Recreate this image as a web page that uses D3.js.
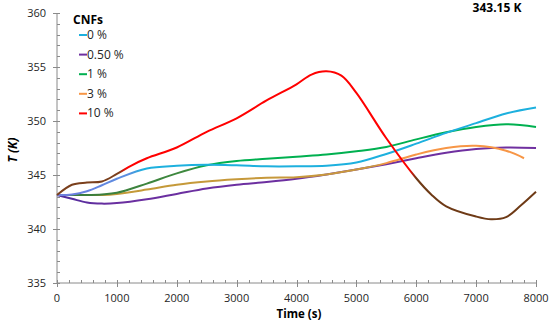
<!DOCTYPE html>
<html>
<head>
<meta charset="utf-8">
<script src="https://cdn.jsdelivr.net/npm/d3@7"></script>
<style>
  body { margin: 0; background: #fff; }
  svg { font-family: "Open Sans", "Noto Sans", sans-serif; }
</style>
</head>
<body>
<svg id="chart" width="550" height="324"></svg>
<script>
// time points (s)
var times = [0, 250, 500, 750, 1000, 1500, 2000, 2500, 3000, 3500, 4000, 4500, 5000, 5500, 6000, 6500, 7000, 7500, 8000];
var times3 = [0, 250, 500, 750, 1000, 1500, 2000, 2500, 3000, 3500, 4000, 4500, 5000, 5500, 6000, 6500, 7000, 7500, 7800];
var times10 = [0, 250, 500, 750, 1000, 1250, 1500, 2000, 2500, 3000, 3500, 4000, 4250, 4500, 4750, 5000, 5500, 6000, 6250, 6500, 7000, 7250, 7500, 7750, 8000];

// temperature (K) per CNFs loading
var cnf0  = [343.15, 343.2, 343.5, 344.05, 344.65, 345.6, 345.85, 345.95, 345.9, 345.8, 345.8, 345.85, 346.15, 346.95, 347.9, 348.9, 349.8, 350.7, 351.25];
var cnf05 = [343.15, 342.8, 342.45, 342.35, 342.4, 342.75, 343.25, 343.75, 344.1, 344.35, 344.65, 345.05, 345.5, 346.0, 346.55, 347.05, 347.4, 347.55, 347.5];
var cnf1  = [343.15, 343.15, 343.15, 343.2, 343.35, 344.2, 345.15, 345.9, 346.3, 346.5, 346.7, 346.9, 347.2, 347.6, 348.3, 348.95, 349.45, 349.7, 349.45];
var cnf3  = [343.15, 343.15, 343.15, 343.15, 343.25, 343.65, 344.1, 344.4, 344.6, 344.75, 344.8, 345.05, 345.5, 346.1, 346.9, 347.5, 347.7, 347.25, 346.55];
var cnf10 = [343.15, 344.1, 344.3, 344.4, 345.1, 345.9, 346.55, 347.55, 349.0, 350.25, 351.9, 353.4, 354.3, 354.6, 354.2, 352.6, 348.4, 344.7, 343.2, 342.1, 341.15, 340.9, 341.1, 342.2, 343.45];

var labels = ["0 %", "0.50 %", "1 %", "3 %", "10 %"];
var yTicks = [335, 340, 345, 350, 355, 360];
var xTicks = [0, 1000, 2000, 3000, 4000, 5000, 6000, 7000, 8000];

var svg = d3.select("#chart");
var x = d3.scaleLinear().domain([0, 8000]).range([57, 536]);
var y = d3.scaleLinear().domain([335, 360]).range([283, 13]);

// colour bands along time, where the lines look blended in the original
var series = [
    {t: times,   v: cnf05, stops: [[0, "#4f2c9c"], [0.12, "#6a2fa0"], [1, "#7030A0"]]},
    {t: times3,  v: cnf3,  stops: [[0, "#c29a36"], [0.66, "#c9983e"], [0.69, "#F79646"], [1, "#F79646"]]},
    {t: times,   v: cnf1,  stops: [[0, "#3a7a3c"], [0.28, "#3f8a3f"], [0.31, "#00B050"], [1, "#00B050"]]},
    {t: times,   v: cnf0,  stops: [[0, "#6f82de"], [0.04, "#6a7fe0"], [0.15, "#5b8fe0"], [0.18, "#1DB0DE"], [1, "#1DB0DE"]]},
    {t: times10, v: cnf10, stops: [[0, "#7a3f1c"], [0.13, "#7a3f1c"], [0.145, "#FF0000"], [0.735, "#FF0000"], [0.75, "#6e3a16"], [1, "#6e3a16"]]}
];

var defs = svg.append("defs");
series.forEach(function (s, i) {
    var g = defs.append("linearGradient")
        .attr("id", "grad" + i)
        .attr("gradientUnits", "userSpaceOnUse")
        .attr("x1", x(0)).attr("x2", x(8000))
        .attr("y1", 0).attr("y2", 0);
    s.stops.forEach(function (st) {
        g.append("stop").attr("offset", st[0]).attr("stop-color", st[1]);
    });
});

// axes
var axisColor = "#8a8a8a";
var yMinor = d3.range(335, 361, 1);
var xMinor = d3.range(0, 8001, 200);

svg.append("line").attr("x1", x(0)).attr("x2", x(0)).attr("y1", y(360)).attr("y2", y(335))
    .attr("stroke", axisColor).attr("stroke-width", 1);
svg.append("line").attr("x1", x(0)).attr("x2", x(8000)).attr("y1", y(335)).attr("y2", y(335))
    .attr("stroke", axisColor).attr("stroke-width", 1);

svg.selectAll(".ymin").data(yMinor).enter().append("line")
    .attr("x1", x(0)).attr("x2", x(0) + 3)
    .attr("y1", d => Math.round(y(d)) + 0.5).attr("y2", d => Math.round(y(d)) + 0.5)
    .attr("stroke", axisColor);
svg.selectAll(".ymaj").data(yTicks).enter().append("line")
    .attr("x1", x(0) - 4).attr("x2", x(0))
    .attr("y1", d => Math.round(y(d)) + 0.5).attr("y2", d => Math.round(y(d)) + 0.5)
    .attr("stroke", axisColor);
svg.selectAll(".xmin").data(xMinor).enter().append("line")
    .attr("x1", d => Math.round(x(d)) + 0.5).attr("x2", d => Math.round(x(d)) + 0.5)
    .attr("y1", y(335) - 3).attr("y2", y(335))
    .attr("stroke", axisColor);
svg.selectAll(".xmaj").data(xTicks).enter().append("line")
    .attr("x1", d => Math.round(x(d)) + 0.5).attr("x2", d => Math.round(x(d)) + 0.5)
    .attr("y1", y(335)).attr("y2", y(335) + 4)
    .attr("stroke", axisColor);

svg.selectAll(".ylab").data(yTicks).enter().append("text")
    .attr("x", 46).attr("y", d => y(d) + 4)
    .attr("text-anchor", "end")
    .attr("font-size", 11).attr("fill", "#262626")
    .text(d => d);
svg.selectAll(".xlab").data(xTicks).enter().append("text")
    .attr("x", d => x(d)).attr("y", 302)
    .attr("text-anchor", "middle")
    .attr("font-size", 11).attr("fill", "#262626")
    .text(d => d);

// axis titles
svg.append("text")
    .attr("x", 299).attr("y", 318)
    .attr("text-anchor", "middle")
    .attr("font-size", 11.5).attr("font-weight", "bold")
    .text("Time (s)");
svg.append("text")
    .attr("transform", "translate(17,150) rotate(-90)")
    .attr("text-anchor", "middle")
    .attr("font-size", 12).attr("font-weight", "bold").attr("font-style", "italic")
    .text("T (K)");
svg.append("text")
    .attr("x", 497).attr("y", 12)
    .attr("text-anchor", "middle")
    .attr("font-size", 12).attr("font-weight", "bold")
    .text("343.15 K");

// lines
var line = d3.line().curve(d3.curveCatmullRom.alpha(0.5));
series.forEach(function (s, i) {
    var pts = s.t.map(function (t, j) { return [x(t), y(s.v[j])]; });
    svg.append("path")
        .attr("d", line(pts))
        .attr("fill", "none")
        .attr("stroke", "url(#grad" + i + ")")
        .attr("stroke-width", 2);
});

// legend
var legend = svg.append("g");
legend.append("text")
    .attr("x", 73).attr("y", 24)
    .attr("font-size", 12).attr("font-weight", "bold")
    .text("CNFs");
var legendColors = ["#1DB0DE", "#7030A0", "#00B050", "#F79646", "#FF0000"];
labels.forEach(function (lab, i) {
    var ly = 35 + i * 19.6;
    legend.append("line")
        .attr("x1", 79).attr("x2", 87)
        .attr("y1", ly).attr("y2", ly)
        .attr("stroke", legendColors[i]).attr("stroke-width", 2);
    legend.append("text")
        .attr("x", 87).attr("y", ly + 4)
        .attr("font-size", 12).attr("fill", "#262626")
        .text(lab);
});
</script>
</body>
</html>
